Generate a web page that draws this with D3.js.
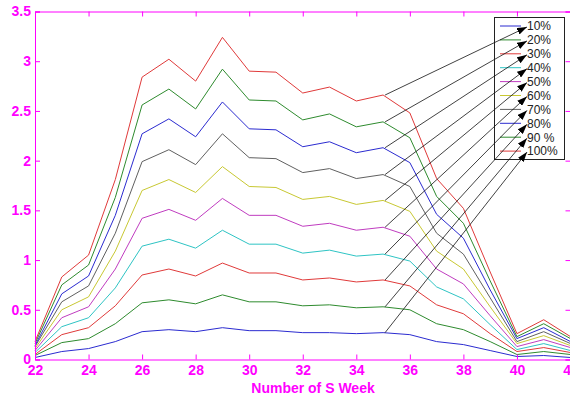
<!DOCTYPE html>
<html>
<head>
<meta charset="utf-8">
<script src="https://cdn.jsdelivr.net/npm/d3@7"></script>
<style>
body { margin: 0; background: #fff; overflow: hidden; }
svg { display: block; }
</style>
</head>
<body>
<script>
var weeks = [22,23,24,25,26,27,28,29,30,31,32,33,34,35,36,37,38,39,40,41,42];
var xTicks = [22,24,26,28,30,32,34,36,38,40,42];
var yTicks = [0,0.5,1,1.5,2,2.5,3,3.5];
var labels = ["10%","20%","30%","40%","50%","60%","70%","80%","90 %","100%"];
var colors = ["#2b2bd0","#2e8b2e","#e03a3a","#2ec4c4","#c03cc0","#c8c832","#606060","#2b2bd0","#2e8b2e","#e03a3a"];

var s10  = [0.02,0.08,0.11,0.18,0.28,0.30,0.28,0.32,0.29,0.29,0.27,0.27,0.26,0.27,0.25,0.18,0.15,0.09,0.03,0.04,0.02];
var s20  = [0.04,0.17,0.21,0.36,0.57,0.60,0.56,0.65,0.58,0.58,0.54,0.55,0.52,0.53,0.50,0.36,0.30,0.18,0.05,0.08,0.05];
var s30  = [0.05,0.25,0.32,0.54,0.85,0.91,0.84,0.97,0.87,0.87,0.80,0.82,0.78,0.80,0.74,0.55,0.46,0.26,0.08,0.12,0.07];
var s40  = [0.07,0.33,0.42,0.72,1.14,1.21,1.12,1.30,1.16,1.16,1.07,1.10,1.04,1.06,0.99,0.73,0.61,0.35,0.10,0.16,0.09];
var s50  = [0.09,0.42,0.53,0.91,1.42,1.51,1.40,1.62,1.45,1.45,1.34,1.37,1.30,1.33,1.24,0.91,0.76,0.44,0.13,0.20,0.12];
var s60  = [0.11,0.50,0.63,1.09,1.70,1.81,1.68,1.94,1.74,1.73,1.61,1.64,1.56,1.60,1.49,1.09,0.91,0.53,0.16,0.24,0.14];
var s70  = [0.13,0.58,0.74,1.27,1.99,2.11,1.96,2.27,2.03,2.02,1.88,1.92,1.82,1.86,1.74,1.27,1.06,0.62,0.18,0.28,0.16];
var s80  = [0.14,0.66,0.84,1.45,2.27,2.42,2.24,2.59,2.32,2.31,2.14,2.19,2.08,2.13,1.98,1.46,1.22,0.70,0.21,0.32,0.18];
var s90  = [0.16,0.75,0.95,1.63,2.56,2.72,2.52,2.92,2.61,2.60,2.41,2.47,2.34,2.39,2.23,1.64,1.37,0.79,0.23,0.36,0.21];
var s100 = [0.18,0.83,1.05,1.81,2.84,3.02,2.80,3.24,2.90,2.89,2.68,2.74,2.60,2.66,2.48,1.82,1.52,0.88,0.26,0.40,0.23];
var series = [s10,s20,s30,s40,s50,s60,s70,s80,s90,s100];
var arrowWeek = 35;

var width = 570, height = 399;
var axisColor = "#ff00ff";

var x = d3.scaleLinear().domain([22, 42]).range([35, 570.5]);
var y = d3.scaleLinear().domain([0, 3.5]).range([359.5, 11.5]);

var svg = d3.select("body").append("svg")
	.attr("width", width).attr("height", height);

var defs = svg.append("defs");
defs.append("marker")
	.attr("id", "head")
	.attr("viewBox", "0 0 10 10")
	.attr("preserveAspectRatio", "none")
	.attr("refX", 10).attr("refY", 5)
	.attr("markerWidth", 10).attr("markerHeight", 7)
	.attr("markerUnits", "userSpaceOnUse")
	.attr("orient", "auto")
	.append("path").attr("d", "M0,0L10,5L0,10Z").attr("fill", "#000");

// series lines
var line = d3.line()
	.x(function(d, i){ return x(weeks[i]); })
	.y(function(d){ return y(d); });

svg.append("g").selectAll("path").data(series)
	.enter().append("path")
	.attr("d", line)
	.attr("fill", "none")
	.attr("stroke", function(d, i){ return colors[i]; })
	.attr("stroke-width", 1);

// axes box (MATLAB style, ticks inside)
var xAxisB = d3.axisBottom(x).tickValues(xTicks).tickSize(-5).tickPadding(6).tickFormat(d3.format("d"));
var xAxisT = d3.axisTop(x).tickValues(xTicks).tickSize(-5).tickFormat("");
var yAxisL = d3.axisLeft(y).tickValues(yTicks).tickSize(-5).tickPadding(4).tickFormat(function(d){ return d; });
var yAxisR = d3.axisRight(y).tickValues(yTicks).tickSize(-5).tickFormat("");

function style(g){
	g.selectAll("path, line").attr("stroke", axisColor);
	g.selectAll("text").attr("fill", axisColor)
		.style("font-family", "Liberation Sans, Arial, sans-serif")
		.style("font-size", "14px").style("font-weight", "bold");
}

svg.append("g").attr("transform", "translate(0," + y(0) + ")").call(xAxisB).call(style);
svg.append("g").attr("transform", "translate(0," + y(3.5) + ")").call(xAxisT).call(style);
svg.append("g").attr("transform", "translate(" + x(22) + ",0)").call(yAxisL).call(style);
svg.append("g").attr("transform", "translate(" + x(42) + ",0)").call(yAxisR).call(style);

svg.append("text")
	.attr("x", 313).attr("y", 393)
	.attr("text-anchor", "middle")
	.attr("fill", axisColor)
	.style("font-family", "Liberation Sans, Arial, sans-serif")
	.style("font-size", "14px").style("font-weight", "bold")
	.text("Number of S Week");

// legend
var lgX = 494, lgY = 17, lgW = 70, lgH = 142, rowH = 13.9, row0 = 26;
svg.append("rect")
	.attr("x", lgX + 0.5).attr("y", lgY + 0.5)
	.attr("width", lgW).attr("height", lgH)
	.attr("fill", "#fff").attr("stroke", "#222");

var lg = svg.append("g").selectAll("g").data(labels)
	.enter().append("g")
	.attr("transform", function(d, i){ return "translate(0," + (row0 + i * rowH) + ")"; });
lg.append("line")
	.attr("x1", 500).attr("x2", 521).attr("y1", 0).attr("y2", 0)
	.attr("stroke", function(d, i){ return colors[i]; });
lg.append("text")
	.attr("x", 527).attr("y", 0).attr("dy", "0.36em")
	.attr("fill", "#222")
	.style("font-family", "Liberation Sans, Arial, sans-serif")
	.style("font-size", "12px")
	.text(function(d){ return d; });

// arrows from each curve at week 35 to the legend (top curve -> first entry)
var ai = weeks.indexOf(arrowWeek);
svg.append("g").selectAll("line").data(series)
	.enter().append("line")
	.attr("x1", x(arrowWeek) + 2)
	.attr("y1", function(d){ return y(d[ai]); })
	.attr("x2", 527)
	.attr("y2", function(d, i){ return row0 + (9 - i) * rowH + 1; })
	.attr("stroke", "#111").attr("stroke-width", 0.8)
	.attr("marker-end", "url(#head)");
</script>
</body>
</html>
